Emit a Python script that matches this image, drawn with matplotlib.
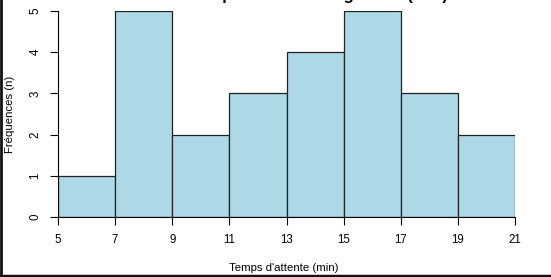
#!/usr/bin/env python3
"""Histogramme des temps d'attente (style R base graphics)."""
import matplotlib.pyplot as plt
from matplotlib.lines import Line2D

bin_edges = [5, 7, 9, 11, 13, 15, 17, 19, 21]
counts = [1, 5, 2, 3, 4, 5, 3, 2]
x_ticks = bin_edges
y_ticks = [0, 1, 2, 3, 4, 5]

title = "Distribution des temps d'attente au guichet (min)"
xlabel = "Temps d'attente (min)"
ylabel = "Fréquences (n)"


def main() -> None:
    plt.rcParams["font.family"] = ["Liberation Sans", "DejaVu Sans"]
    fig = plt.figure(figsize=(5.51, 2.77), dpi=100)
    ax = fig.add_axes([58 / 551, 60 / 277, 457 / 551, 206 / 277])

    widths = [b - a for a, b in zip(bin_edges[:-1], bin_edges[1:])]
    ax.bar(bin_edges[:-1], counts, width=widths, align="edge",
           color="#add8e6", edgecolor="#222222", linewidth=0.9)

    ax.set_xlim(bin_edges[0], bin_edges[-1])
    ax.set_ylim(0, max(counts))
    ax.set_xticks(x_ticks)
    ax.set_yticks(y_ticks)
    ax.tick_params(direction="out", length=6, width=0.8, labelsize=8.3, pad=6)
    for lab in ax.get_yticklabels():
        lab.set_rotation(90)
        lab.set_va("center")
    for side in ("top", "right"):
        ax.spines[side].set_visible(False)
    for side in ("left", "bottom"):
        ax.spines[side].set_linewidth(0.8)

    fig.text(284 / 551, 9 / 277, xlabel, ha="center", va="center", fontsize=8.2)
    fig.text(10 / 551, 0.5 * (60 + 266) / 277, ylabel, rotation=90,
             ha="center", va="center", fontsize=8.2)
    # titre coupé en haut de la capture : seuls les jambages dépassent
    fig.text(255 / 551, 1.0, title, ha="center", va="baseline",
             fontsize=12, fontweight="bold")

    # cadre sombre de la capture (gauche et bas)
    fig.add_artist(Line2D([0.002, 0.002], [0, 1], transform=fig.transFigure,
                          color="#111111", linewidth=2))
    fig.add_artist(Line2D([0, 1], [0.005, 0.005], transform=fig.transFigure,
                          color="#111111", linewidth=2.5))

    fig.savefig("out.png", dpi=100, facecolor="white")


if __name__ == "__main__":
    main()
